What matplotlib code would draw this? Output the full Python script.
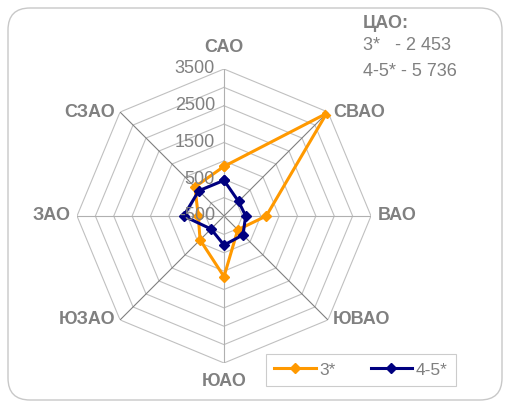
import numpy as np
import matplotlib
matplotlib.use('Agg')
import matplotlib.pyplot as plt
from matplotlib.patches import FancyBboxPatch
from matplotlib.lines import Line2D

plt.rcParams['font.family'] = ['Liberation Sans', 'DejaVu Sans']

# data
cats = ['САО', 'СВАО', 'ВАО', 'ЮВАО', 'ЮАО', 'ЮЗАО', 'ЗАО', 'СЗАО']
vals_3 = [850, 3450, 650, 30, 1150, 420, 200, 620]
vals_45 = [470, 60, 90, 230, 290, 0, 600, 470]
rings = [0, 500, 1000, 1500, 2000, 2500, 3000, 3500]
tick_labels = [3500, 2500, 1500, 500, -500]
note_title = 'ЦАО:'
note_lines = ['3*   - 2 453', '4-5* - 5 736']

W, H = 508, 405
gray = '#808080'
fig = plt.figure(figsize=(W / 100, H / 100), dpi=100)

# rounded border of the chart area
border = FancyBboxPatch((8, 5), 494, 392, boxstyle='round,pad=0,rounding_size=22',
                        transform=None, facecolor='none', edgecolor='#c8c8c8', lw=1.0)
fig.patches.append(border)

cx, cy, R = 224, H - 216, 147
ax = fig.add_axes([(cx - R) / W, (cy - R) / H, 2 * R / W, 2 * R / H], projection='polar')
ax.set_theta_zero_location('N')
ax.set_theta_direction(-1)
ax.set_ylim(-500, 3500)
ax.grid(False)
ax.set_xticks([])
ax.set_yticks([])
ax.spines['polar'].set_visible(False)
ax.patch.set_alpha(0)

n = len(cats)
ang = np.arange(n) * 2 * np.pi / n
ang_c = np.append(ang, ang[0])

# polygon grid
for r in rings:
    ax.plot(ang_c, [r] * (n + 1), color='#c0c0c0', lw=0.8, zorder=1)
for i, a in enumerate(ang):
    col = '#b0b0b0' if i % 2 == 0 else '#808080'
    ax.plot([a, a], [-500, 3500], color=col, lw=0.8, zorder=1)

# series
v3 = vals_3 + vals_3[:1]
v45 = vals_45 + vals_45[:1]
ax.plot(ang_c, v3, color='#ff9900', lw=2.2, marker='D', ms=5.5, zorder=3)
ax.plot(ang_c, v45, color='#000080', lw=2.2, marker='D', ms=5.5, zorder=4)

# radial tick labels (drawn over the series, as in the original)
for t in tick_labels:
    ax.annotate(str(t), xy=(0, t), xytext=(-9, 0), textcoords='offset pixels',
                ha='right', va='center', fontsize=13, color=gray, zorder=6)

# category labels
offs = [(0, 21, 'center'), (5, 0, 'left'), (7, 0, 'left'), (5, 0, 'left'),
        (0, -19, 'center'), (-5, 0, 'right'), (-6, 0, 'right'), (-5, 0, 'right')]
for a, c, (dx, dy, ha) in zip(ang, cats, offs):
    ax.annotate(c, xy=(a, 3500), xytext=(dx, dy), textcoords='offset pixels',
                ha=ha, va='center', fontsize=13, fontweight='bold', color=gray)

# note in the top right corner
fig.text(363 / W, 1 - 23 / H, note_title, fontsize=13, fontweight='bold', color=gray,
         ha='left', va='center')
for i, s in enumerate(note_lines):
    fig.text(363 / W, 1 - (46 + 25 * i) / H, s, fontsize=13, color=gray,
             ha='left', va='center')

# legend
handles = [Line2D([], [], color='#ff9900', lw=2.2, marker='D', ms=5.5),
           Line2D([], [], color='#000080', lw=2.2, marker='D', ms=5.5)]
leg = fig.legend(handles, ['3*', '4-5*'], loc='center',
                 bbox_to_anchor=(361 / W, 1 - 370 / H), ncol=2, fontsize=12.5,
                 frameon=True, fancybox=False, edgecolor='#c0c0c0',
                 handlelength=2.4, handletextpad=0.2, columnspacing=2.0,
                 borderpad=0.5, labelcolor=gray)
leg.get_frame().set_linewidth(0.8)

fig.savefig('out.png', dpi=100)
